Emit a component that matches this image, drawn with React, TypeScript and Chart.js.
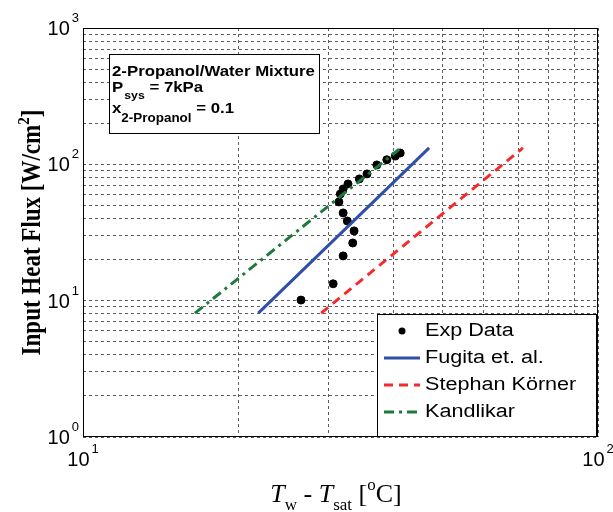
import React, { useEffect, useRef } from 'react';
import { Chart, registerables } from 'chart.js';
Chart.register(...registerables);

// ---- data ----
const expX = [26.5, 30.6, 32.0, 33.4, 33.6, 32.6, 32.0, 31.4, 31.6, 32.0, 32.7, 34.4, 35.6, 37.2, 38.9, 40.4, 41.3];
const expY = [10.1, 13.3, 21.3, 26.5, 32.5, 38.4, 44.0, 53.0, 60.6, 66.0, 71.8, 78.2, 85.1, 99, 108, 115, 121];
const fugitaX = [21.9, 47.0];
const fugitaY = [8.1, 132];
const stephanX = [29.0, 71.5];
const stephanY = [8.1, 132];
const kandlikarX = [16.5, 41.1];
const kandlikarY = [8.1, 129];
const seriesLabels = ['Exp Data', 'Fugita et. al.', 'Stephan Körner', 'Kandlikar'];
const xTickValues = [10, 20, 30, 40, 50, 60, 70, 80, 90, 100];
const yTickValues = [1, 2, 3, 4, 5, 6, 7, 8, 9, 10, 20, 30, 40, 50, 60, 70, 80, 90, 100, 200, 300, 400, 500, 600, 700, 800, 900, 1000];
const xDecades = [10, 100];
const yDecades = [1, 10, 100, 1000];

const zip = (xs: number[], ys: number[]) => xs.map((x, i) => ({ x, y: ys[i] }));

const SANS = "'Liberation Sans', Arial, sans-serif";
const SERIF = "'Liberation Serif', 'Times New Roman', serif";

function drawPow(ctx: CanvasRenderingContext2D, exp: number, x: number, y: number, align: 'center' | 'right') {
  ctx.font = `20px ${SANS}`;
  const wb = ctx.measureText('10').width;
  ctx.font = `13px ${SANS}`;
  const we = ctx.measureText(String(exp)).width;
  const total = wb + 2 + we;
  const left = align === 'center' ? x - total / 2 : x - total;
  ctx.textAlign = 'left';
  ctx.textBaseline = 'alphabetic';
  ctx.font = `20px ${SANS}`;
  ctx.fillText('10', left, y);
  ctx.font = `13px ${SANS}`;
  ctx.fillText(String(exp), left + wb + 2, y - 13);
}

// draws text stretched horizontally by sx
function wideText(ctx: CanvasRenderingContext2D, s: string, x: number, y: number, sx: number) {
  ctx.save();
  ctx.translate(x, y);
  ctx.scale(sx, 1);
  ctx.fillText(s, 0, 0);
  ctx.restore();
  return ctx.measureText(s).width * sx;
}

const overlay = {
  id: 'overlay',
  afterDraw(chart: any) {
    const ctx: CanvasRenderingContext2D = chart.ctx;
    const { left, right, top, bottom } = chart.chartArea;
    const xs = chart.scales.x;
    const ys = chart.scales.y;
    ctx.save();
    // frame
    ctx.setLineDash([]);
    ctx.strokeStyle = '#000';
    ctx.lineWidth = 1;
    ctx.strokeRect(left + 0.5, top + 0.5, right - left - 1, bottom - top - 1);
    ctx.fillStyle = '#000';
    // tick labels
    yDecades.forEach((v) => {
      const py = ys.getPixelForValue(v);
      drawPow(ctx, Math.round(Math.log10(v)), 79, py + 7, 'right');
    });
    xDecades.forEach((v) => {
      const px = xs.getPixelForValue(v);
      drawPow(ctx, Math.round(Math.log10(v)), px, bottom + 29, 'center');
    });
    // y title
    ctx.save();
    ctx.translate(40, (top + bottom) / 2);
    ctx.rotate(-Math.PI / 2);
    ctx.scale(1, 1.15);
    ctx.font = `bold 23px ${SERIF}`;
    const t1 = 'Input Heat Flux [W/cm';
    const w1 = ctx.measureText(t1).width;
    ctx.font = `bold 15px ${SERIF}`;
    const w2 = ctx.measureText('2').width;
    ctx.font = `bold 23px ${SERIF}`;
    const w3 = ctx.measureText(']').width;
    const sx0 = -(w1 + w2 + w3) / 2;
    ctx.textAlign = 'left';
    ctx.fillText(t1, sx0, 0);
    ctx.font = `bold 15px ${SERIF}`;
    ctx.fillText('2', sx0 + w1, -10);
    ctx.font = `bold 23px ${SERIF}`;
    ctx.fillText(']', sx0 + w1 + w2, 0);
    ctx.restore();
    // x title
    const parts: [string, string, number][] = [
      ['T', `italic 26px ${SERIF}`, 0],
      ['w', `17px ${SERIF}`, 8],
      [' - ', `26px ${SERIF}`, 0],
      ['T', `italic 26px ${SERIF}`, 0],
      ['sat', `17px ${SERIF}`, 8],
      [' [', `26px ${SERIF}`, 0],
      ['o', `17px ${SERIF}`, -12],
      ['C]', `26px ${SERIF}`, 0],
    ];
    let tw = 0;
    parts.forEach(([s, f]) => { ctx.font = f; tw += ctx.measureText(s).width; });
    let cx = 336 - tw / 2;
    parts.forEach(([s, f, dy]) => { ctx.font = f; ctx.fillText(s, cx, 502 + dy); cx += ctx.measureText(s).width; });

    // annotation box
    ctx.fillStyle = '#fff';
    ctx.fillRect(109, 54, 210, 79);
    ctx.strokeStyle = '#000';
    ctx.strokeRect(109.5, 54.5, 210, 79);
    ctx.fillStyle = '#000';
    const S = 1.12;
    ctx.font = `bold 15px ${SANS}`;
    wideText(ctx, '2-Propanol/Water Mixture', 112, 76, S);
    let px0 = 112;
    px0 += wideText(ctx, 'P', px0, 92, S);
    ctx.font = `bold 11px ${SANS}`;
    px0 += wideText(ctx, 'sys', px0 + 1, 99, S) + 1;
    ctx.font = `bold 15px ${SANS}`;
    wideText(ctx, ' = 7kPa', px0, 92, S);
    px0 = 112;
    px0 += wideText(ctx, 'x', px0, 113, S);
    ctx.font = `bold 12px ${SANS}`;
    px0 += wideText(ctx, '2-Propanol', px0, 122, S);
    ctx.font = `bold 15px ${SANS}`;
    wideText(ctx, ' = 0.1', px0, 113, S);

    // legend
    const lx = 377, ly = 314, lw = 219, lh = 122;
    ctx.fillStyle = '#fff';
    ctx.fillRect(lx, ly, lw, lh);
    ctx.strokeStyle = '#000';
    ctx.strokeRect(lx + 0.5, ly + 0.5, lw, lh);
    const rows = [331, 358, 385, 412];
    chart.data.datasets.forEach((ds: any, i: number) => {
      const ry = rows[i];
      if (i === 0) {
        ctx.fillStyle = '#000';
        ctx.beginPath();
        ctx.arc(402, ry, 3.5, 0, Math.PI * 2);
        ctx.fill();
      } else {
        ctx.strokeStyle = ds.borderColor;
        ctx.lineWidth = ds.borderWidth;
        ctx.setLineDash(ds.borderDash || []);
        ctx.beginPath();
        ctx.moveTo(384, ry);
        ctx.lineTo(420, ry);
        ctx.stroke();
        ctx.setLineDash([]);
        ctx.lineWidth = 1;
      }
      ctx.fillStyle = '#000';
      ctx.font = `18px ${SANS}`;
      ctx.textBaseline = 'middle';
      wideText(ctx, seriesLabels[i], 425, ry, 1.2);
      ctx.textBaseline = 'alphabetic';
    });
    ctx.restore();
  },
};

export default function App() {
  const ref = useRef<HTMLCanvasElement>(null);
  useEffect(() => {
    document.body.style.margin = '0';
    const chart = new Chart(ref.current!, {
      type: 'scatter',
      data: {
        datasets: [
          { label: seriesLabels[0], data: zip(expX, expY), backgroundColor: '#000', borderColor: '#000', pointRadius: 4, showLine: false, order: 5 },
          { label: seriesLabels[1], data: zip(fugitaX, fugitaY), borderColor: '#2f4fa8', backgroundColor: '#2f4fa8', borderWidth: 3, pointRadius: 0, showLine: true, order: 1 },
          { label: seriesLabels[2], data: zip(stephanX, stephanY), borderColor: '#f52b2b', backgroundColor: '#f52b2b', borderWidth: 3, borderDash: [9, 6], pointRadius: 0, showLine: true, order: 2 },
          { label: seriesLabels[3], data: zip(kandlikarX, kandlikarY), borderColor: '#1d7a3c', backgroundColor: '#1d7a3c', borderWidth: 3, borderDash: [10, 5, 3, 5], pointRadius: 0, showLine: true, order: 3 },
        ] as any,
      },
      options: {
        animation: false,
        responsive: false,
        layout: { padding: { left: 0, right: 15, top: 28, bottom: 0 } },
        plugins: { legend: { display: false }, tooltip: { enabled: false } },
        scales: {
          x: {
            type: 'logarithmic',
            min: 10,
            max: 100,
            afterBuildTicks: (s: any) => { s.ticks = xTickValues.map((v) => ({ value: v })); },
            afterFit: (s: any) => { s.height = 75; },
            ticks: { display: false },
            grid: { color: '#333', lineWidth: 0.8, drawTicks: false },
            border: { display: false, dash: [3, 3] },
          },
          y: {
            type: 'logarithmic',
            min: 1,
            max: 1000,
            afterBuildTicks: (s: any) => { s.ticks = yTickValues.map((v) => ({ value: v })); },
            afterFit: (s: any) => { s.width = 83; },
            ticks: { display: false },
            grid: { color: '#333', lineWidth: 0.8, drawTicks: false },
            border: { display: false, dash: [3, 3] },
          },
        },
      },
      plugins: [overlay],
    });
    return () => chart.destroy();
  }, []);
  return (
    <div style={{ position: 'fixed', left: 0, top: 0, width: 613, height: 512, background: '#fff' }}>
      <canvas ref={ref} width={613} height={512} style={{ width: 613, height: 512 }} />
    </div>
  );
}
